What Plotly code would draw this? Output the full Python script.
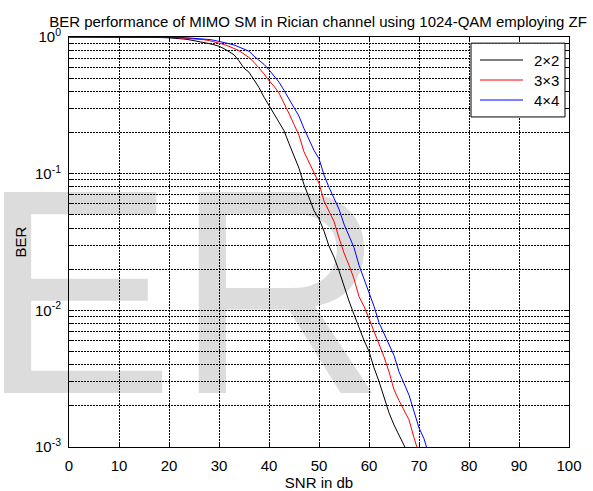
import plotly.graph_objects as go

# SNR grid (dB) shared by the three antenna configurations
snr_db = [0, 1, 2, 3, 4, 5, 6, 7, 8, 9, 10, 11, 12, 13, 14, 15, 16, 17, 18, 19,
          20, 21, 22, 23, 24, 25, 26, 27, 28, 29, 30, 31, 32, 33, 34, 35, 36, 37, 38, 39,
          40, 41, 42, 43, 44, 45, 46, 47, 48, 49, 50, 51, 52, 53, 54, 55, 56, 57, 58, 59,
          60, 61, 62, 63, 64, 65, 66, 67, 68, 69, 70, 71, 72]

# Simulated bit error rate per SNR point
ber_2x2 = [1, 1, 1, 1, 1, 1, 1, 1, 1, 1, 1, 1, 1, 1, 1, 1,
           0.9977, 0.9954, 0.9931, 0.9908, 0.9863, 0.9817, 0.9750, 0.9660, 0.9550, 0.9419,
           0.9290, 0.9120, 0.8954, 0.8770, 0.8551, 0.8222, 0.7852, 0.7413, 0.6683, 0.5916,
           0.5521, 0.4898, 0.4266, 0.3631, 0.3162, 0.2754, 0.2344, 0.2065, 0.1660, 0.1349,
           0.1096, 0.0832, 0.0661, 0.0537, 0.0468, 0.0380, 0.0295, 0.0245, 0.0195, 0.0148,
           0.0117, 0.00933, 0.00741, 0.00603, 0.00501, 0.00380, 0.00302, 0.00229, 0.00178, 0.00145,
           0.00123, 0.00105, 0.00087]

ber_3x3 = [1, 1, 1, 1, 1, 1, 1, 1, 1, 1, 1, 1, 1, 1, 1, 1, 1, 1,
           0.9977, 0.9954, 0.9931, 0.9908, 0.9863, 0.9817, 0.9772, 0.9705, 0.9638, 0.9550,
           0.9419, 0.9247, 0.9036, 0.8810, 0.8551, 0.8279, 0.7943, 0.7499, 0.7079, 0.6531,
           0.5957, 0.5370, 0.4786, 0.4365, 0.3890, 0.3311, 0.2754, 0.2291, 0.1905, 0.1445,
           0.1202, 0.1000, 0.0851, 0.0631, 0.0525, 0.0447, 0.0339, 0.0263, 0.0214, 0.0170,
           0.0126, 0.0107, 0.00871, 0.00708, 0.00562, 0.00457, 0.00355, 0.00263, 0.00219, 0.00186,
           0.00158, 0.00117, 0.00089]

ber_4x4 = [1, 1, 1, 1, 1, 1, 1, 1, 1, 1, 1, 1, 1, 1, 1, 1, 1, 1, 1,
           0.9977, 0.9954, 0.9931, 0.9908, 0.9886, 0.9840, 0.9795, 0.9750, 0.9683, 0.9594,
           0.9462, 0.9311, 0.9120, 0.8933, 0.8750, 0.8472, 0.8166, 0.7870, 0.7244, 0.6761,
           0.6310, 0.5754, 0.5188, 0.4677, 0.4074, 0.3548, 0.3090, 0.2630, 0.2138, 0.1778,
           0.1479, 0.1288, 0.0977, 0.0794, 0.0661, 0.0550, 0.0427, 0.0347, 0.0288, 0.0214,
           0.0170, 0.0138, 0.0107, 0.00813, 0.00676, 0.00562, 0.00468, 0.00355, 0.00295, 0.00240,
           0.00182, 0.00138, 0.00115, 0.00087]

series_names = ["2×2", "3×3", "4×4"]
series_colors = ["#000000", "#ff0000", "#0000ff"]

# Axis ticks
x_tick_vals = [0, 10, 20, 30, 40, 50, 60, 70, 80, 90, 100]
y_tick_vals = [0.001, 0.01, 0.1, 1]
y_tick_text = ["10<sup>-3</sup>", "10<sup>-2</sup>", "10<sup>-1</sup>", "10<sup>0</sup>"]
y_minor_vals = [0.002, 0.003, 0.004, 0.005, 0.006, 0.007, 0.008, 0.009,
                0.02, 0.03, 0.04, 0.05, 0.06, 0.07, 0.08, 0.09,
                0.2, 0.3, 0.4, 0.5, 0.6, 0.7, 0.8, 0.9]

FONT = "Arial, 'Liberation Sans', sans-serif"
GRID = dict(gridcolor="#000000", griddash="2px,1px", gridwidth=1)

fig = go.Figure()
for name, color, ber in zip(series_names, series_colors, [ber_2x2, ber_3x3, ber_4x4]):
    fig.add_trace(go.Scatter(
        x=snr_db[:len(ber)], y=ber, mode="lines", name=name,
        line=dict(color=color, width=1), showlegend=False,
    ))

# Faint background lettering behind the grid
fig.add_shape(
    type="rect", xref="paper", yref="paper",
    x0=-0.184, x1=0.9, y0=0.049, y1=0.75,
    line=dict(width=0), fillcolor="rgba(0,0,0,0)", layer="below",
    label=dict(text="ER", textposition="bottom left", padding=0,
               font=dict(family=FONT, size=292, color="#dcdcdc")),
)

# Boxed legend in the top-right corner of the axes
legend_box = dict(x0=0.804, x1=0.992, y0=0.805, y1=0.985)
legend_rows = [0.9439, 0.8951, 0.8463]
fig.add_shape(type="rect", xref="paper", yref="paper", layer="above",
              line=dict(color="black", width=1), fillcolor="white", **legend_box)
for name, color, yr in zip(series_names, series_colors, legend_rows):
    fig.add_shape(type="line", xref="paper", yref="paper", layer="above",
                  x0=0.822, x1=0.908, y0=yr, y1=yr, line=dict(color=color, width=1))
    fig.add_annotation(text=name, xref="paper", yref="paper", x=0.926, y=yr,
                       xanchor="left", yanchor="middle", showarrow=False,
                       font=dict(family=FONT, size=15, color="black"))

fig.update_layout(
    template="none",
    width=593, height=491,
    margin=dict(l=69, r=24, t=37, b=44),
    paper_bgcolor="white", plot_bgcolor="rgba(0,0,0,0)",
    font=dict(family=FONT, size=15, color="black"),
    title=dict(text="BER performance of MIMO SM in Rician channel using 1024-QAM employing ZF",
               x=318 / 593, xanchor="center", xref="container",
               y=1 - 22 / 491, yanchor="middle", yref="container",
               font=dict(family=FONT, size=15, color="black")),
    showlegend=False,
)

fig.update_xaxes(
    range=[0, 100], tickvals=x_tick_vals, ticks="inside", ticklen=5,
    tickcolor="black", showline=True, linecolor="black", linewidth=1,
    mirror="allticks", showgrid=True, zeroline=False, ticklabelstandoff=5,
    title=dict(text="SNR in db", standoff=6, font=dict(family=FONT, size=15)),
    **GRID,
)
fig.update_yaxes(
    type="log", range=[-3, 0], tickvals=y_tick_vals, ticktext=y_tick_text,
    ticks="inside", ticklen=5, tickcolor="black",
    showline=True, linecolor="black", linewidth=1, mirror="allticks",
    showgrid=True, zeroline=False, ticklabelstandoff=4,
    minor=dict(tickvals=y_minor_vals, ticks="inside", ticklen=3, tickcolor="black",
               showgrid=True, **GRID),
    title=dict(text="BER", standoff=4, font=dict(family=FONT, size=15)),
    **GRID,
)

fig.write_html("out.html")
